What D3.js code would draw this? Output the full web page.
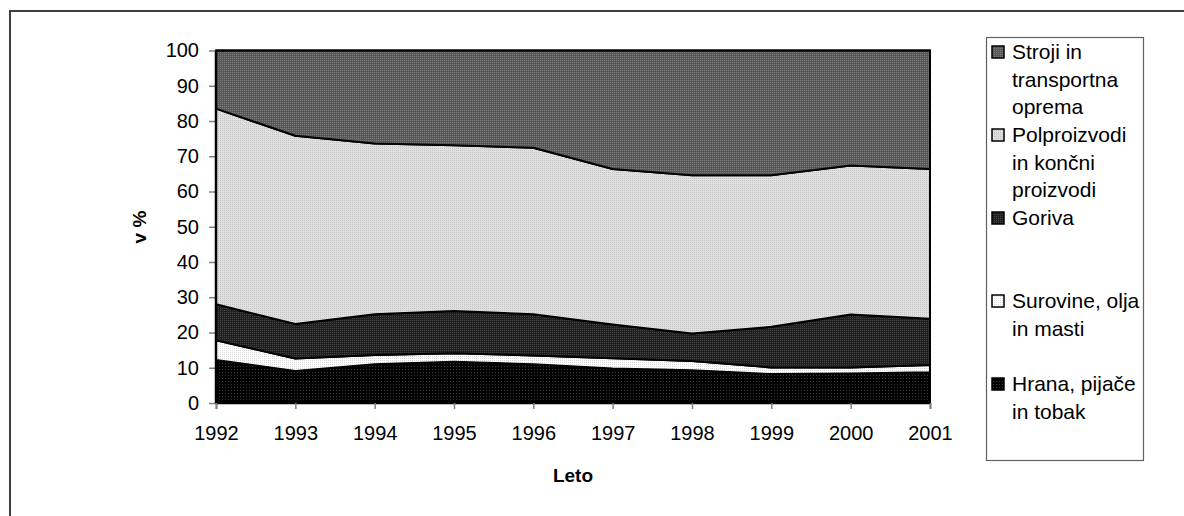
<!DOCTYPE html>
<html><head><meta charset="utf-8">
<script src="https://cdn.jsdelivr.net/npm/d3@7"></script>
<style>body{margin:0;background:#fff}svg{display:block}text{font-family:"Liberation Sans",Arial,sans-serif}</style>
</head><body>
<svg id="c" width="1184" height="516"></svg>
<script>
const years = [1992,1993,1994,1995,1996,1997,1998,1999,2000,2001];
const hrana = [12.2,9.1,11.0,11.7,11.0,9.8,9.3,8.2,8.4,8.7];
const surovine = [5.6,3.5,2.6,2.4,2.5,2.9,2.6,1.9,1.7,2.1];
const goriva = [10.2,9.8,11.6,12.0,11.7,9.6,7.8,11.5,15.0,13.1];
const polproizvodi = [55.5,53.4,48.4,47.0,47.2,44.1,44.9,43.0,42.3,42.5];
const stroji = [16.5,24.2,26.4,26.9,27.6,33.6,35.4,35.4,32.6,33.6];
const seriesKeys = ["hrana","surovine","goriva","polproizvodi","stroji"];
const seriesLabels = {
  stroji:["Stroji in","transportna","oprema"],
  polproizvodi:["Polproizvodi","in končni","proizvodi"],
  goriva:["Goriva"],
  surovine:["Surovine, olja","in masti"],
  hrana:["Hrana, pijače","in tobak"]
};
const yTicks = [0,10,20,30,40,50,60,70,80,90,100];
const yTitle = "v %", xTitle = "Leto";

const svg = d3.select("#c");
const defs = svg.append("defs");
function pat(id, base, dot, size){
  const p = defs.append("pattern").attr("id",id).attr("patternUnits","userSpaceOnUse")
    .attr("width",size).attr("height",size);
  p.append("rect").attr("width",size).attr("height",size).attr("fill",base);
  p.append("rect").attr("width",1).attr("height",1).attr("fill",dot);
}
pat("p-stroji","#585858","#7c7c7c",2);
pat("p-polproizvodi","#e0e0e0","#c4c4c4",2);
pat("p-goriva","#202020","#444444",2);
pat("p-surovine","#ffffff","#d8d8d8",2);
pat("p-hrana","#000000","#3c3c3c",3);

// outer border
svg.append("rect").attr("x",10).attr("y",11).attr("width",1400).attr("height",700)
  .attr("fill","none").attr("stroke","#404040").attr("stroke-width",2);

const L=216,R=930,T=50.5,B=403;
const x = d3.scalePoint().domain(years).range([L,R]);
const y = d3.scaleLinear().domain([0,100]).range([B,T]);

const table = years.map((yr,i)=>({year:yr,hrana:hrana[i],surovine:surovine[i],goriva:goriva[i],polproizvodi:polproizvodi[i],stroji:stroji[i]}));
const stack = d3.stack().keys(seriesKeys)(table);
const area = d3.area().x(d=>x(d.data.year)).y0(d=>y(d[0])).y1(d=>y(Math.min(100,d[1])));

svg.append("g").selectAll("path").data(stack).join("path")
  .attr("d",area).attr("fill",d=>`url(#p-${d.key})`)
  .attr("stroke","#000").attr("stroke-width",2).attr("stroke-linejoin","round");

// frame
svg.append("path").attr("d",`M${L},${B}V${T}H${R}V${B}`).attr("fill","none").attr("stroke","#000").attr("stroke-width",2);

// y axis
const ya = svg.append("g").attr("transform",`translate(${L},0)`)
  .call(d3.axisLeft(y).tickValues(yTicks).tickSize(7).tickPadding(10));
ya.select(".domain").remove();
ya.selectAll(".tick line").attr("stroke","#808080").attr("stroke-width",1.5);
ya.selectAll(".tick text").attr("font-size",20).attr("fill","#000").attr("font-family","Liberation Sans, Arial, sans-serif");
svg.append("line").attr("x1",L).attr("x2",L).attr("y1",T).attr("y2",B).attr("stroke","#000").attr("stroke-width",2.5);

// x axis
const xa = svg.append("g").attr("transform",`translate(0,${B})`)
  .call(d3.axisBottom(x).tickSize(6).tickPadding(17));
xa.select(".domain").attr("stroke","#000").attr("stroke-width",1.5);
xa.selectAll(".tick line").attr("stroke","#808080").attr("stroke-width",1.5);
xa.selectAll(".tick text").attr("font-size",20).attr("fill","#000").attr("font-family","Liberation Sans, Arial, sans-serif");

// titles
svg.append("text").attr("transform","translate(146,227) rotate(-90)").attr("text-anchor","middle")
  .attr("font-size",19).attr("font-weight","bold").text(yTitle);
svg.append("text").attr("x",(L+R)/2).attr("y",482).attr("text-anchor","middle")
  .attr("font-size",19).attr("font-weight","bold").text(xTitle);

// legend
svg.append("rect").attr("x",986.5).attr("y",37.5).attr("width",157).attr("height",423)
  .attr("fill","#fff").attr("stroke","#606060").attr("stroke-width",1.2);
const legendOrder = seriesKeys.slice().reverse();
legendOrder.forEach((k,i)=>{
  const by = 59 + i*83;
  svg.append("rect").attr("x",992).attr("y",by-13).attr("width",12).attr("height",12)
    .attr("fill",`url(#p-${k})`).attr("stroke","#000").attr("stroke-width",1.5);
  seriesLabels[k].forEach((ln,j)=>{
    svg.append("text").attr("x",1012).attr("y",by+j*27.6).attr("font-size",21).text(ln);
  });
});
</script>
</body></html>
